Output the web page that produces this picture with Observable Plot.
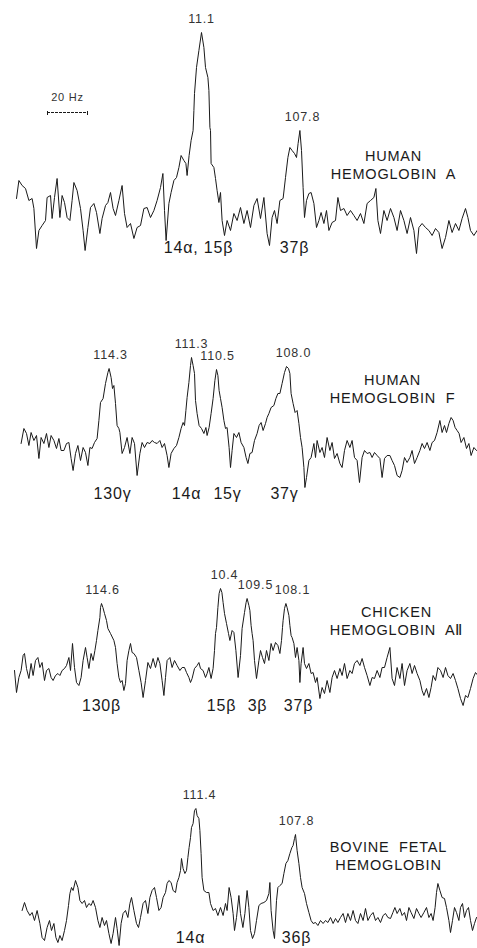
<!DOCTYPE html>
<html><head><meta charset="utf-8">
<script src="https://cdn.jsdelivr.net/npm/d3@7"></script>
<script src="https://cdn.jsdelivr.net/npm/@observablehq/plot@0.6"></script>
<style>body{margin:0;background:#fff} #chart svg{display:block}</style>
</head><body><div id="chart"></div>
<script>
// x: frequency offset (Hz), intensity: arbitrary units
const hbA = [[8,102],[9.2,120],[10.8,115],[12.5,112],[14.2,100],[15.8,102],[16.7,92],[18,52],[19.2,70],[20.8,75],
[22.5,80],[23.3,103],[25,105],[25.8,82],[27,103],[28.3,122],[29.7,83],[30.8,105],[32,98],[33.3,83],
[34.7,80],[35.8,100],[36.7,118],[38.3,110],[40,92],[41.3,70],[42.3,50],[43.7,73],[45,93],[46.7,97],
[48,88],[49.7,67],[50.8,82],[52.5,95],[53.7,98],[55,108],[56.3,92],[57.5,85],[59.2,100],[60.8,115],
[62,87],[63.3,73],[65,77],[66.7,62],[68.3,73],[70,75],[71.7,92],[73.3,93],[75,83],[76.7,90],
[78.3,100],[80,113],[81.2,127],[82,90],[82.8,60],[84.2,97],[85.3,108],[86.7,120],[88,123],[89.2,133],
[90.3,145],[91.7,140],[92.7,137],[93.3,125],[94.3,145],[95.3,160],[96.3,170],[96.7,190],[97,207],[98,233],
[99.2,250],[100.5,268],[101.7,253],[102.5,233],[103.7,223],[104.2,210],[104.7,173],[105,170],[105.3,137],[106.7,133],
[107.5,122],[108.3,110],[109.2,98],[110,108],[110.8,80],[112,65],[113.3,80],[115,70],[116.7,87],[118.3,80],
[120,93],[121.7,77],[123.3,90],[125,73],[126.7,95],[128.3,102],[130,82],[131.7,103],[133.3,67],[134.5,55],
[135.8,83],[137,90],[138.3,77],[139.7,100],[141.3,102],[142.5,123],[143.7,143],[144.7,153],[145.8,150],[147,147],
[148,143],[148.8,157],[149.7,170],[150.5,150],[151.3,113],[152,83],[153,100],[154.2,107],[155.3,108],[156.7,97],
[158,73],[159.2,80],[160.3,88],[161.7,77],[163,90],[164.2,70],[165.8,78],[167.5,80],[168.7,103],[170,90],
[171.7,92],[173.3,85],[175,90],[176.7,85],[178.3,80],[180,87],[181.7,77],[183.3,97],[185,100],[186.7,103],
[187.7,112],[188.7,80],[190,67],[191.7,90],[193.3,80],[195,92],[196.7,83],[198.3,70],[200,90],[201.7,80],
[203.3,67],[205,83],[206.7,70],[208,47],[209.2,73],[210.8,77],[212.5,73],[214.2,70],[215.8,65],[217.5,72],
[219.2,68],[220.8,52],[222.5,63],[224.2,80],[225.8,68],[227.5,77],[229.2,70],[230.8,82],[232.5,92],[233.7,83],
[235,70],[236.7,65],[238.3,70]];

const hbF = [[10.3,77],[11.7,92],[13,87],[14.2,75],[15.3,88],[16.7,80],[18,85],[19.2,62],[20.3,83],[21.7,77],
[23,87],[24.2,73],[25.3,85],[26.7,80],[28,72],[29.2,82],[30.3,70],[31.7,70],[33,77],[34.2,78],
[35.3,62],[36.3,50],[37.5,67],[38.7,75],[40,60],[41.3,73],[42.5,68],[43.7,55],[44.7,73],[45.8,72],
[47,78],[48.3,82],[49.2,100],[50,118],[51.3,122],[52.5,137],[53.7,148],[54.3,152],[55.3,143],[56,132],
[56.7,135],[57.5,117],[58.3,95],[59.2,92],[59.7,88],[60.8,67],[62,73],[63.3,83],[64.7,67],[65.8,83],
[67,77],[68.3,45],[69.7,67],[70.8,78],[72,73],[73.3,78],[74.7,77],[75.8,80],[77,78],[78.3,77],
[79.7,80],[80.8,73],[82,77],[83.3,65],[84.2,53],[85.3,67],[86.7,72],[88,75],[89.2,83],[90.3,92],
[91.3,98],[92,95],[92.7,110],[93.3,123],[94.2,138],[95,155],[95.5,163],[96.3,155],[97,147],[97.5,120],
[98.3,107],[99.3,95],[100.5,92],[101.7,87],[102.7,93],[103.3,85],[104.3,93],[105.3,107],[106.3,122],[107.2,140],
[108,151],[108.7,145],[109.3,130],[110,122],[110.8,113],[111.7,100],[112.5,92],[113.3,93],[114.3,73],[115,53],
[115.8,70],[116.7,87],[118,83],[119.2,88],[120.3,78],[121.7,73],[122.8,63],[123.7,57],[124.7,67],[125.8,68],
[127,80],[128.3,87],[129.3,95],[130.3,98],[131.3,90],[132.5,97],[133.3,103],[134.2,107],[135.3,113],[136.7,115],
[137.7,122],[138.7,127],[139.7,127],[140.8,137],[142,148],[143,154],[144,152],[144.7,147],[145.3,127],[146.3,117],
[147.3,108],[148.3,110],[149.2,97],[150,83],[150.8,73],[151.7,53],[152.2,33],[153,43],[154.2,60],[155.3,63],
[156.7,77],[157.5,63],[158.3,80],[159.7,68],[160.8,73],[162,63],[163.3,83],[164.7,70],[165.8,78],[167,62],
[168.3,67],[169.7,57],[170.8,53],[172,70],[173.3,80],[174.7,73],[175.8,80],[177,63],[178.3,60],[179.5,38],
[180.8,63],[182,70],[183.3,67],[184.7,68],[185.8,63],[187,68],[188.3,65],[189.7,62],[190.8,43],[192,62],
[193.3,65],[194.7,65],[195.8,60],[197,55],[198.3,45],[199.7,43],[200.8,50],[202,63],[203.3,58],[204.7,63],
[205.8,70],[207,57],[208.3,63],[209.7,70],[210.8,77],[212,72],[213.3,78],[214.7,70],[215.8,78],[217,80],
[218.3,88],[219.7,100],[220.8,88],[222,95],[223,88],[224.2,97],[225.3,103],[226.3,100],[227.3,93],[228.3,90],
[229.3,87],[230.3,78],[231.7,83],[233,72],[234.2,77],[235.3,65],[236.7,73],[238,70]];

const chickenAII = [[7,90],[8,68],[9.2,83],[10.3,90],[11.3,105],[12,107],[13,92],[14.2,82],[15.3,97],[16.3,85],
[17.5,100],[18.7,103],[19.7,93],[20.8,98],[22,80],[23,90],[24.2,92],[25.3,83],[26.3,80],[27.5,85],
[28.7,87],[29.7,85],[30.8,90],[32,92],[33,95],[34.2,103],[35,90],[36,117],[37,93],[38,78],
[39.2,75],[40.3,83],[41.3,100],[42.5,113],[43.3,103],[44.2,92],[45.3,107],[46.3,100],[47.2,110],[48,120],
[48.7,130],[49.7,143],[50,153],[50.5,157],[51.2,153],[52,147],[53,140],[53.7,132],[55,127],[56.7,120],
[57.5,113],[58.3,97],[59.2,83],[60,78],[60.8,80],[61.7,70],[62.5,77],[63.3,100],[64.2,110],[65,117],
[65.8,108],[66.7,107],[68,103],[69.2,90],[70.3,78],[71.3,63],[72.5,80],[73.7,98],[75,92],[76.3,102],
[77.5,93],[78.7,103],[79.7,97],[80.8,80],[81.7,65],[82.5,83],[83.3,100],[84.7,103],[85.8,93],[87,100],
[88.3,95],[89.7,90],[90.8,93],[92,93],[93,88],[94.2,83],[95,78],[95.8,82],[97,92],[98.3,95],
[99.2,98],[100,92],[101.3,90],[102.5,83],[103.3,87],[104.2,93],[105.3,82],[106.3,92],[107,110],[107.5,127],
[108,133],[108.7,153],[109.3,167],[110,172],[110.7,168],[111.3,158],[112,147],[113,137],[114,127],[114.7,120],
[115.8,130],[116.7,128],[117.7,110],[118.8,83],[120,105],[120.8,132],[122,148],[122.8,158],[123.3,162],[124.2,155],
[124.7,150],[125.3,135],[125.8,127],[126.3,120],[127,100],[128,82],[129.2,100],[130,110],[131,103],[132,97],
[133,110],[134.2,100],[135.3,117],[136.3,110],[137.5,118],[138.7,115],[139.7,107],[140.5,120],[141,133],[141.3,140],
[142,152],[142.7,157],[143.3,153],[144.2,145],[144.7,135],[145.3,125],[145.8,123],[146.7,117],[147.5,103],[148.3,113],
[149.2,100],[149.7,78],[150.3,97],[151.3,113],[152,97],[153,92],[154.2,97],[155.3,87],[156.3,88],[157.5,78],
[158.3,83],[159.7,62],[160.8,73],[162,67],[163.3,80],[164.7,68],[165.8,83],[167,90],[168.3,82],[169.7,92],
[170.8,85],[172,97],[173.3,82],[174.7,90],[175.8,87],[177,97],[178.3,100],[179.7,95],[180.8,102],[182,93],
[183.3,85],[184.7,75],[185.8,83],[187,82],[188.3,90],[189.7,83],[190.8,93],[192,93],[193.3,103],[194.7,113],
[195.8,82],[197,75],[198.3,93],[199.7,82],[200.8,97],[202,75],[203.3,90],[204.7,97],[205.8,87],[207,95],
[208.3,87],[209.7,80],[210.8,70],[211.7,65],[213,72],[214.2,63],[215.3,73],[216.3,85],[217.5,80],[218.7,93],
[220,90],[221.3,83],[222.5,93],[223.7,85],[225,82],[226.3,87],[227.5,80],[228.7,72],[230,62],[231.3,55],
[232.5,65],[233.7,63],[235,72],[236.3,82],[237.5,88],[238.7,85]];

const bovineFetal = [[10.8,38],[12,46],[13.3,38],[14.7,33],[15.8,36],[17,28],[18.3,38],[19.7,25],[20.8,11],[22,8],
[23.3,21],[24.5,28],[25.5,18],[26.7,25],[27.7,11],[28.7,6],[29.7,13],[30.8,8],[32,18],[33,28],
[34,43],[34.7,55],[35.5,61],[36.3,58],[37.5,68],[38.7,61],[39.7,48],[40.8,45],[42,48],[43,41],
[44.2,45],[45.3,43],[46.3,48],[47.5,41],[48.7,28],[49.7,21],[50.8,31],[52,23],[53,28],[54.2,15],
[55.3,5],[56.3,15],[57.5,31],[58.3,20],[59.3,3],[60.3,25],[61.3,35],[62.5,38],[63.7,31],[64.7,45],
[65.5,51],[66.7,38],[68,25],[69,21],[70,31],[71.3,45],[72.5,48],[73.7,35],[74.7,51],[75.8,58],
[77,61],[78,51],[79.2,38],[80.3,41],[81.3,51],[82.5,56],[83.3,65],[84.2,68],[85.3,66],[86.3,58],
[87.5,56],[88.3,66],[89.2,71],[90,78],[90.5,90],[91.3,80],[92.2,75],[93,78],[93.7,91],[94.3,101],
[95,111],[95.5,121],[96.3,125],[97,138],[97.7,140],[98.3,133],[99.2,130],[99.7,118],[100.3,95],[100.8,71],
[101.7,58],[103,56],[104.2,56],[105,45],[106.3,38],[107.5,40],[108.7,33],[110,41],[111.3,33],[112.5,45],
[113.3,38],[114.3,61],[115.3,51],[116.3,35],[117,18],[118,31],[119.2,53],[120,35],[121.2,21],[122.2,35],
[123.3,58],[124.2,41],[125,18],[126,10],[127,15],[128,28],[129.2,43],[130.3,45],[131.7,46],[133,48],
[134.2,55],[134.7,66],[135.3,38],[136.3,18],[137,10],[138,48],[138.7,61],[139.7,63],[140.8,65],[141.7,75],
[142.7,85],[143.7,88],[144.7,95],[145.7,101],[146.3,103],[147,110],[147.5,114],[148.3,98],[149.2,85],[150,71],
[150.8,61],[152,55],[153,45],[154.2,36],[155.3,28],[156.3,25],[157.5,26],[158.7,23],[160,28],[161.3,25],
[162.5,28],[163.7,26],[165,31],[166.3,25],[167.5,30],[168.7,26],[170,31],[171.3,35],[172.5,26],[173.7,35],
[175,28],[176.3,38],[177.5,28],[178.7,25],[180,35],[181.3,28],[182.5,40],[183.7,28],[185,33],[186.3,36],
[187.5,28],[188.7,31],[190,26],[191.3,33],[192.5,35],[193.7,31],[195,30],[196.2,36],[197.2,41],[198.3,35],
[199.7,40],[200.8,33],[202,36],[203,28],[204.2,41],[205.3,36],[206.7,30],[208,40],[209.2,35],[210.3,31],
[211.7,36],[213,41],[214.2,31],[215.3,35],[216.3,28],[217.3,41],[218,56],[218.7,65],[219.7,58],[220.8,51],
[222,50],[223,41],[224.2,28],[225,16],[226,28],[227,41],[228,36],[229.2,28],[230,41],[231,45],
[232,31],[233,38],[234,41],[235,28],[236,18],[237,25],[238,31]];

// peak labels (ppm), their frequency offsets and peak heights
const hbA_peakLabel = ["11.1", "107.8"];
const hbA_peakHz = [100.5, 151];
const hbA_peakInt = [268, 170];
const hbF_peakLabel = ["114.3", "111.3", "110.5", "108.0"];
const hbF_peakHz = [55, 95.5, 108.5, 146.5];
const hbF_peakInt = [152, 163, 151, 154];
const chicken_peakLabel = ["114.6", "10.4", "109.5", "108.1"];
const chicken_peakHz = [51, 112, 127.5, 146];
const chicken_peakInt = [157, 172, 162, 157];
const bovine_peakLabel = ["111.4", "107.8"];
const bovine_peakHz = [99.5, 148];
const bovine_peakInt = [140, 114];

// residue assignments and their frequency offsets
const hbA_assign = ["14α, 15β", "37β"];
const hbA_assignHz = [99, 147];
const hbF_assign = ["130γ", "14α", "15γ", "37γ"];
const hbF_assignHz = [56, 93, 113.5, 142];
const chicken_assign = ["130β", "15β", "3β", "37β"];
const chicken_assignHz = [50.5, 110.5, 128.5, 149];
const bovine_assign = ["14α", "36β"];
const bovine_assignHz = [95, 148];

const sampleNames = ["HUMAN\nHEMOGLOBIN  A", "HUMAN\nHEMOGLOBIN  F", "CHICKEN\nHEMOGLOBIN  A\u2161", "BOVINE  FETAL\nHEMOGLOBIN"];
const scaleBarHz = 20;

const font = "'Liberation Sans', Arial, sans-serif";
const ink = "#1a1a1a";

const panels = [
  {trace: hbA, pl: hbA_peakLabel, ph: hbA_peakHz, pi: hbA_peakInt, al: hbA_assign, ah: hbA_assignHz,
   name: sampleNames[0], height: 300, nameHz: 196.5, nameInt: 136, assignInt: 53, bar: true},
  {trace: hbF, pl: hbF_peakLabel, ph: hbF_peakHz, pi: hbF_peakInt, al: hbF_assign, ah: hbF_assignHz,
   name: sampleNames[1], height: 220, nameHz: 196, nameInt: 132, assignInt: 27},
  {trace: chickenAII, pl: chicken_peakLabel, ph: chicken_peakHz, pi: chicken_peakInt, al: chicken_assign, ah: chicken_assignHz,
   name: sampleNames[2], height: 240, nameHz: 198, nameInt: 140, assignInt: 55},
  {trace: bovineFetal, pl: bovine_peakLabel, ph: bovine_peakHz, pi: bovine_peakInt, al: bovine_assign, ah: bovine_assignHz,
   name: sampleNames[3], height: 188, nameHz: 194, nameInt: 93, assignInt: 11}
];

const chart = document.getElementById("chart");
for (const p of panels) {
  const marks = [
    Plot.line(p.trace, {x: d => d[0], y: d => d[1], stroke: ink, strokeWidth: 1, strokeLinejoin: "round"}),
    Plot.text(p.pl, {x: p.ph, y: p.pi, text: d => d, dy: -14, fontSize: 12.5, fill: "#333"}),
    Plot.text(p.al, {x: p.ah, y: p.assignInt, text: d => d, fontSize: 16, fill: ink}),
    Plot.text([p.name], {x: p.nameHz, y: p.nameInt, text: d => d, fontSize: 14.5, lineHeight: 1.2, fill: ink})
  ];
  if (p.bar) {
    const x1 = 23.5, x2 = 23.5 + scaleBarHz;
    marks.push(
      Plot.ruleY([188], {x1, x2, stroke: ink, strokeWidth: 1, strokeDasharray: "3,1"}),
      Plot.ruleX([x1, x2], {y1: 185, y2: 189, stroke: ink, strokeWidth: 1}),
      Plot.text([`${scaleBarHz} Hz`], {x: (x1 + x2) / 2, y: 203, text: d => d, fontSize: 11, fill: "#333"})
    );
  }
  chart.appendChild(Plot.plot({
    width: 477, height: p.height, margin: 0,
    x: {domain: [0, 238.5], axis: null},
    y: {domain: [0, p.height], axis: null},
    style: {fontFamily: font, letterSpacing: "0.8px", background: "#fff", overflow: "visible"},
    marks
  }));
}
</script></body></html>
